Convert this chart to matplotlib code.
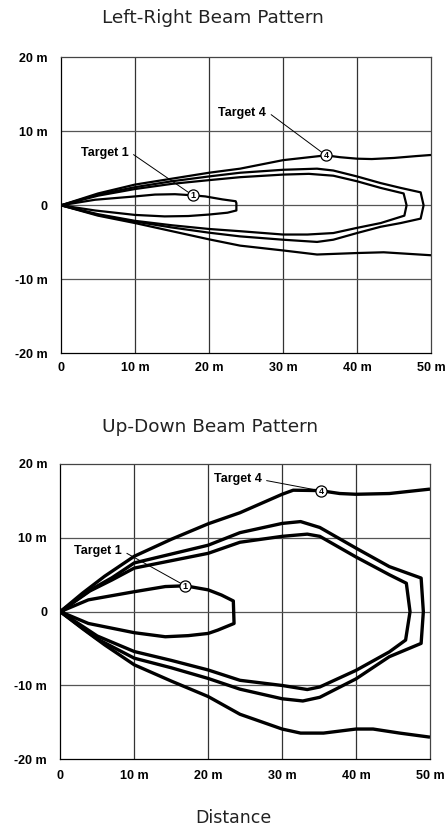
import matplotlib
matplotlib.use("Agg")
import matplotlib.pyplot as plt

# ---------------- data ----------------
x_ticks = [0, 10, 20, 30, 40, 50]
x_tick_labels = ["0", "10 m", "20 m", "30 m", "40 m", "50 m"]
y_ticks = [-20, -10, 0, 10, 20]
y_tick_labels = ["-20 m", "-10 m", "0", "10 m", "20 m"]

# Left-Right beam pattern
lr_t1_x = [0, 4.6, 10, 12.7, 15.4, 17.8, 19.5, 21.8, 23.6, 23.7, 23.7, 22.5, 20, 17.2, 14, 10, 4.6, 0]
lr_t1_y = [0, 0.75, 1.2, 1.45, 1.5, 1.35, 1.2, 0.8, 0.55, 0.3, -0.7, -1.0, -1.25, -1.45, -1.5, -1.3, -0.7, 0]
lr_t2_x = [0, 5, 10, 15, 20, 24.2, 30, 33.5, 36.8, 40, 43.2, 46.3, 46.7, 46.4, 43.2, 40, 36.8, 33.3, 30, 24.2, 20, 15, 10, 5, 0]
lr_t2_y = [0, 1.3, 2.2, 2.9, 3.4, 3.8, 4.15, 4.25, 4.0, 3.25, 2.35, 1.6, 0, -1.4, -2.4, -3.05, -3.75, -3.95, -3.95, -3.5, -3.2, -2.7, -2.1, -1.2, 0]
lr_t3_x = [0, 5, 10, 15, 20, 24.2, 30, 34.6, 36.8, 40, 43.2, 45.9, 48.6, 49.0, 48.6, 45.9, 43.2, 40, 36.8, 34.6, 30, 24.2, 20, 15, 10, 5, 0]
lr_t3_y = [0, 1.45, 2.45, 3.25, 3.9, 4.4, 4.8, 4.95, 4.7, 3.9, 3.0, 2.35, 1.75, 0, -1.8, -2.4, -2.9, -3.75, -4.65, -4.95, -4.65, -4.2, -3.7, -3.0, -2.2, -1.3, 0]
lr_t4_upper_x = [0, 5, 10, 15, 20, 24.2, 30, 35.8, 37.7, 40, 42, 45, 48, 50]
lr_t4_upper_y = [0, 1.6, 2.8, 3.6, 4.4, 4.95, 6.1, 6.75, 6.5, 6.3, 6.25, 6.4, 6.65, 6.8]
lr_t4_lower_x = [0, 5, 10, 15, 20, 24.2, 30, 34.6, 40, 43.6, 50]
lr_t4_lower_y = [0, -1.4, -2.4, -3.5, -4.6, -5.45, -6.1, -6.65, -6.45, -6.35, -6.75]
lr_t1_mark = (17.8, 1.35)
lr_t4_mark = (35.8, 6.75)
lr_t1_label = (9.1, 7.1)
lr_t4_label = (27.7, 12.5)

# Up-Down beam pattern
ud_t1_x = [0, 3.8, 10, 14.2, 16.9, 20, 21.8, 23.4, 23.5, 21.3, 20, 17.3, 14.2, 10, 3.8, 0]
ud_t1_y = [0, 1.6, 2.7, 3.4, 3.5, 2.95, 2.25, 1.45, -1.6, -2.5, -2.95, -3.25, -3.4, -2.85, -1.6, 0]
ud_t2_x = [0, 4, 7, 10, 15, 20, 24.3, 30, 33.4, 35.1, 40, 44.5, 46.8, 47.3, 46.7, 44.5, 40, 35.1, 33.4, 30, 24.3, 20, 15, 10, 5, 0]
ud_t2_y = [0, 2.8, 4.3, 5.9, 6.9, 7.9, 9.4, 10.2, 10.5, 10.2, 7.4, 5.0, 3.85, 0, -3.85, -5.45, -7.95, -10.2, -10.55, -10.0, -9.3, -7.9, -6.6, -5.4, -3.3, 0]
ud_t3_x = [0, 4, 7, 10, 15, 20, 24.3, 30, 32.5, 35.1, 40, 44.5, 48.8, 49.1, 48.8, 44.5, 40, 35.1, 32.8, 30, 24.3, 20, 15, 10, 5, 0]
ud_t3_y = [0, 2.9, 4.6, 6.6, 7.8, 9.0, 10.7, 11.95, 12.2, 11.4, 8.6, 6.1, 4.55, 0, -4.3, -6.1, -9.1, -11.6, -12.1, -11.8, -10.5, -9.05, -7.6, -6.3, -3.7, 0]
ud_t4_upper_x = [0, 3, 6, 10, 15, 20, 24.3, 30, 31.5, 35.1, 37.8, 40, 44.5, 50]
ud_t4_upper_y = [0, 2.5, 4.8, 7.5, 9.8, 11.9, 13.4, 15.9, 16.45, 16.4, 16.0, 15.9, 16.0, 16.6]
ud_t4_lower_x = [0, 3, 6, 10, 15, 20, 24.3, 30, 32.5, 35.6, 40, 42.3, 45.9, 50]
ud_t4_lower_y = [0, -2.3, -4.5, -7.2, -9.4, -11.5, -13.9, -15.9, -16.45, -16.45, -15.9, -15.9, -16.45, -17.0]
ud_t1_mark = (16.9, 3.5)
ud_t4_mark = (35.3, 16.35)
ud_t1_label = (8.3, 8.15)
ud_t4_label = (27.2, 18.0)

# ---------------- drawing ----------------
W, H = 448, 827
fig = plt.figure(figsize=(W / 100, H / 100), dpi=100)

LBL = dict(family=["Liberation Sans", "DejaVu Sans"], fontweight="bold", fontsize=9)
TTL = dict(family=["DejaVu Sans"], fontsize=13.3, color="#222222")
XLB = dict(family=["DejaVu Sans"], fontsize=12.5, color="#222222")


def make_axes(rect, curves, lw, marks, labels, xpad):
    ax = fig.add_axes(rect)
    ax.set_xlim(0, 50)
    ax.set_ylim(-20, 20)
    ax.set_xticks(x_ticks)
    ax.set_xticklabels(x_tick_labels, **LBL)
    ax.set_yticks(y_ticks)
    ax.set_yticklabels(y_tick_labels, **LBL)
    ax.tick_params(length=0)
    ax.tick_params(axis="y", pad=9.5)
    ax.tick_params(axis="x", pad=xpad)
    for s in ax.spines.values():
        s.set_color("#444444")
        s.set_linewidth(0.9)
    ax.spines["left"].set_color("black")
    ax.spines["bottom"].set_color("black")
    for v in [10, 20, 30, 40]:
        ax.axvline(v, color="#333333", lw=0.9, zorder=1)
    for v in [-10, 0, 10]:
        ax.axhline(v, color="#555555", lw=0.9, zorder=1)
    for cx, cy in curves:
        ax.plot(cx, cy, color="black", lw=lw, solid_joinstyle="round",
                solid_capstyle="butt", zorder=3)
    for (mx, my), (lx, ly), num in zip(marks, labels, ["1", "4"]):
        ax.annotate("", xy=(mx, my), xytext=(lx + 0.7, ly - 0.25),
                    arrowprops=dict(arrowstyle="-", lw=0.7, color="black",
                                    shrinkA=0, shrinkB=3), zorder=4)
        ax.text(lx, ly, "Target " + num, ha="right", va="center", zorder=5, **LBL)
        ax.plot([mx], [my], marker="o", ms=8, mfc="white", mec="black",
                mew=0.9, zorder=6)
        ax.text(mx, my - 0.05, num, ha="center", va="center", fontsize=6.5,
                fontweight="bold", family=["Liberation Sans"], zorder=7)
    return ax


ax1 = make_axes([61 / W, 1 - 353.3 / H, 370 / W, 296 / H],
                [(lr_t1_x, lr_t1_y), (lr_t2_x, lr_t2_y), (lr_t3_x, lr_t3_y),
                 (lr_t4_upper_x, lr_t4_upper_y), (lr_t4_lower_x, lr_t4_lower_y)],
                1.6, [lr_t1_mark, lr_t4_mark], [lr_t1_label, lr_t4_label], 6.5)

ax2 = make_axes([60.3 / W, 1 - 759.3 / H, 369.7 / W, 295.3 / H],
                [(ud_t1_x, ud_t1_y), (ud_t2_x, ud_t2_y), (ud_t3_x, ud_t3_y),
                 (ud_t4_upper_x, ud_t4_upper_y), (ud_t4_lower_x, ud_t4_lower_y)],
                2.4, [ud_t1_mark, ud_t4_mark], [ud_t1_label, ud_t4_label], 7.5)

fig.text(213 / W, 1 - 18 / H, "Left-Right Beam Pattern", ha="center", va="center", **TTL)
fig.text(210 / W, 1 - 427 / H, "Up-Down Beam Pattern", ha="center", va="center", **TTL)
fig.text(233 / W, 1 - 818 / H, "Distance", ha="center", va="center", **XLB)

fig.savefig("out.png", dpi=100)
